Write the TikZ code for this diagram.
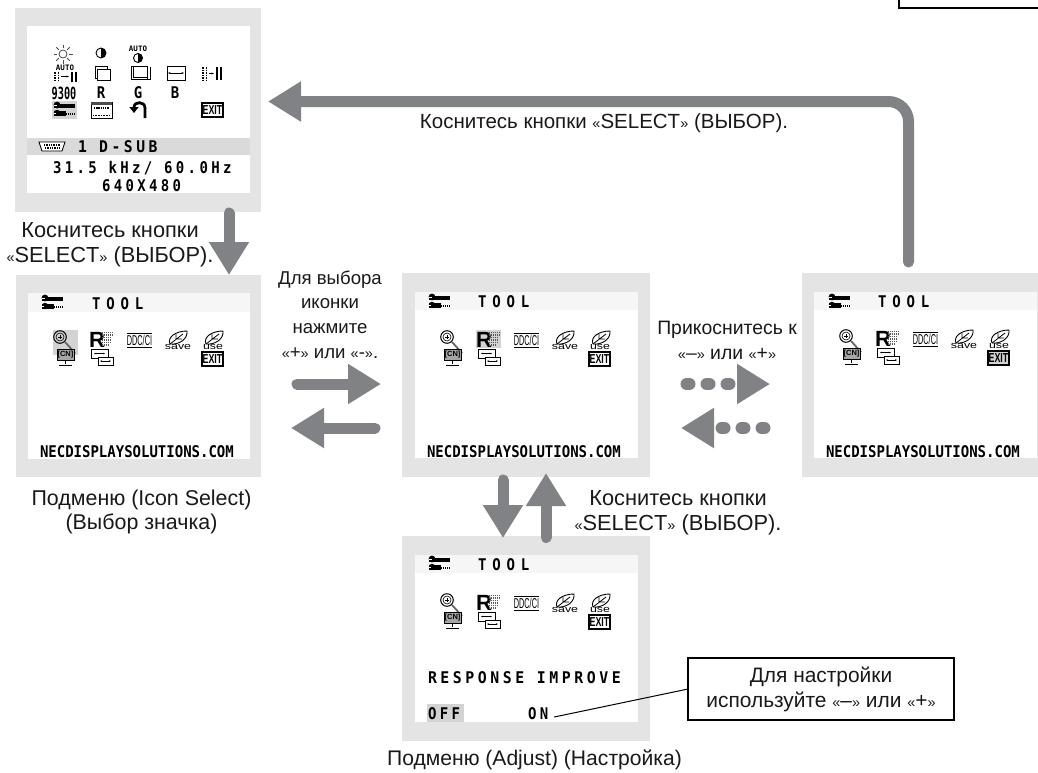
\documentclass[tikz,border=0pt]{standalone}
\usepackage{fontspec}
\setmainfont{Liberation Sans}
\newfontfamily\osd{DejaVu Sans Mono}
\newfontfamily\osdw{DejaVu Sans Mono}[LetterSpace=24]
\newfontfamily\osdt{DejaVu Sans Mono}[LetterSpace=42]
\usetikzlibrary{arrows.meta}
\definecolor{scrgray}{HTML}{E3E4E3}
\definecolor{stripgray}{HTML}{D9DAD9}
\definecolor{headgray}{HTML}{F5F6F5}
\definecolor{selgray}{HTML}{D2D3D2}
\definecolor{arrowgray}{HTML}{808285}
\newcommand{\myLq}{{\fontsize{14.5}{14}\selectfont«}}
\newcommand{\myRq}{{\fontsize{14.5}{14}\selectfont»}}
\newcommand{\selTxt}{\myLq SELECT\myRq}
\tikzset{
  x=1pt,y=-1pt,
  every node/.style={inner sep=0pt,outer sep=0pt},
  label text/.style={align=center,text=black!90,font=\fontsize{#1}{24.8}\selectfont},
  screenbox/.style={fill=scrgray,anchor=north west},
  innerbox/.style={fill=white,anchor=north west},
  osdtext/.style={font=\bfseries\osd\fontsize{14}{14}\selectfont,anchor=west,yscale=1.15},
  osdwide/.style={font=\bfseries\osdw\fontsize{14}{14}\selectfont,anchor=west,yscale=1.15},
  osdtool/.style={font=\bfseries\osdt\fontsize{14}{14}\selectfont,anchor=west,yscale=1.15},
  tiny osd/.style={font=\bfseries\osd\fontsize{7.5}{8}\selectfont},
  leaf word/.style={font=\fontsize{9.5}{10}\selectfont,xscale=1.3},
  bigarrow/.style={draw=arrowgray,line width=11pt,line cap=round,
    -{Triangle[length=33pt,width=38pt,fill=arrowgray]}},
  dotarrow/.style={draw=arrowgray,line width=12pt,dash pattern=on 3pt off 17pt,line cap=round,
    -{Triangle[length=33pt,width=38pt,fill=arrowgray]}},
  hintbox/.style={draw=black,line width=2.6pt,fill=white,align=center,font=\fontsize{20.9}{24.8}\selectfont,text=black!90},
  leader/.style={draw=black,line width=1pt},
  thinblk/.style={draw=black,line width=0.8pt},
}
% half filled contrast disc
\newcommand{\contrast}[3]{%
  \draw[line width=0.9pt] (#1,#2) circle (#3);
  \begin{scope}
    \clip (#1,#2) ++(0,-7) rectangle ++(7,14);
    \fill (#1,#2) circle (#3);
  \end{scope}}
% wrench icon, top left at #1,#2
\newcommand{\wrench}[2]{%
  \begin{scope}[shift={(#1,#2)}]
    \fill (0,1.5) rectangle (21,5.5);
    \fill (3,3) circle (3.4);
    \fill[white] (0,2.6) rectangle (3,3.6);
    \fill (3,11) circle (3.2);
    \fill (0,9) rectangle (12,13.5);
    \fill[white] (0,10.6) rectangle (2,11.4);
    \draw[line width=2pt,dash pattern=on 1.2pt off 0.8pt] (12,11.5) -- (21,11.5);
  \end{scope}}
\newcommand{\exitbox}[3]{% x y boxfill
  \begin{scope}[shift={(#1,#2)}]
    \draw[thinblk,fill=#3,line width=1.1pt] (0,0) rectangle (21,14);
    \node[font=\bfseries\fontsize{13}{13}\selectfont,xscale=0.68] at (10.5,7.2) {EXIT};
  \end{scope}}
\newcommand{\leaf}[2]{% x y
  \begin{scope}[shift={(#1,#2)}]
    \draw[line width=0.9pt] (3,13) .. controls (0,6) and (9,0) .. (20,0) .. controls (21,8) and (12,14) .. (3,13);
    \draw[line width=0.8pt] (3,13) -- (16,3) (9,8) -- (9,3) (9,8) -- (15,8);
  \end{scope}}
% the five tool icons; #1,#2 screen inner origin, #3 zoom bg, #4 R bg, #5 exit bg
\newcommand{\toolicons}[5]{%
  \begin{scope}[shift={(#1,#2)}]
    \fill[#3] (25,37) rectangle (50,62);
    \draw[line width=1pt] (32,44) circle (6.3);
    \draw[line width=0.6pt] (32,44) circle (4);
    \draw[line width=0.6pt] (30,44) -- (34,44) (32,42) -- (32,46);
    \draw[line width=1.8pt,black!60] (37,49) -- (47,60);
    \draw[line width=1pt,fill=black!35] (29,56) rectangle (46,67);
    \node[font=\bfseries\fontsize{7.5}{7}\selectfont] at (37.5,61.5) {[CN]};
    \draw[line width=1pt] (37.5,67) -- (37.5,71) (31,72) -- (44,72);
    \fill[#4] (61,37) rectangle (86,55);
    \node[font=\bfseries\fontsize{22}{21}\selectfont,anchor=west] at (61,47) {R};
    \foreach \yy/\xe in {39.5/86,42/85,44.5/84,47/83,49.5/82,52/81}{
      \draw[line width=1.5pt,black!65,dash pattern=on 1.4pt off 0.7pt] (73.5,\yy) -- (\xe,\yy);}
    \draw[line width=0.8pt] (63,56) rectangle (80,65);
    \draw[line width=0.8pt,{Stealth[length=2pt]}-{Stealth[length=2pt]}] (66,60.5) -- (77,60.5);
    \draw[line width=0.8pt,fill=white] (70,64) rectangle (85,72);
    \draw[line width=0.8pt,{Stealth[length=2pt]}-{Stealth[length=2pt]}] (72,68) -- (83,68);
    \draw[line width=0.8pt] (99,40) -- (124,40) (99,54) -- (124,54);
    \node[font=\fontsize{14}{12}\selectfont,xscale=0.52,yscale=1.02] at (111.5,47) {DDC/CI};
    \leaf{139}{38}
    \node[leaf word] at (150,54) {save};
    \leaf{175}{38}
    \node[leaf word] at (185,54) {use};
    \exitbox{174}{59}{#5}
  \end{scope}}
\begin{document}
\begin{tikzpicture}
\useasboundingbox (0,0) rectangle (1038,772);
\fill[white] (0,0) rectangle (1038,772);

% ---------- screen frames
\node[screenbox,minimum width=246pt,minimum height=204pt] (scrA) at (15,8) {};
\node[innerbox,minimum width=223pt,minimum height=167pt] (inA) at (27,26) {};
\node[screenbox,minimum width=245pt,minimum height=202pt] (scrB) at (16,275) {};
\node[innerbox,minimum width=222pt,minimum height=166pt] (inB) at (28,293) {};
\node[screenbox,minimum width=248pt,minimum height=204pt] (scrC) at (402,273) {};
\node[innerbox,minimum width=223pt,minimum height=166pt] (inC) at (415,292) {};
\node[screenbox,minimum width=236pt,minimum height=204pt] (scrE) at (802,273) {};
\node[innerbox,minimum width=223pt,minimum height=166pt] (inE) at (814,292) {};
\node[screenbox,minimum width=248pt,minimum height=205pt] (scrD) at (402,536) {};
\node[innerbox,minimum width=223pt,minimum height=167pt] (inD) at (415,555) {};

% ---------- screen A
\fill[stripgray] (27,138) rectangle (250,155);
\node[osdwide,xscale=1.05] (srcA) at (78,147) {1 D-SUB};
\node[osdwide] (freqA) at (53,168) {31.5 kHz/ 60.0Hz};
\node[osdwide] (resA) at (102,186) {640X480};
% connector icon
\draw[line width=0.9pt,fill=white] (39,142) -- (65,142) -- (62,151) -- (42,151) -- cycle;
\draw[line width=2pt,dash pattern=on 1pt off 0.7pt] (44,145) -- (60,145) (45,148) -- (59,148);
% row 1
\draw[line width=0.8pt,black!70] (63,54) circle (4);
\foreach \a in {0,45,...,315}{\draw[line width=0.8pt,black!70] (63,54) ++(\a:6) -- ++(\a:3.5);}
\contrast{101}{53}{5}
\node[tiny osd] at (138,48.5) {AUTO};
\contrast{138}{58}{4.5}
% row 2
\node[tiny osd] at (65,68) {AUTO};
\foreach \xx in {55,58.5}{\draw[line width=1.3pt,dash pattern=on 1.5pt off 1pt] (\xx,72) -- (\xx,82);}
\draw[line width=0.6pt,-{Stealth[length=2.5pt]}] (61,76.5) -- (69,76.5);
\draw[line width=2pt] (71.5,71.5) -- (71.5,81.5) (75.5,71.5) -- (75.5,81.5);
\draw[line width=0.9pt] (95,66) rectangle (107,78);
\draw[line width=0.9pt,fill=white] (97,69) rectangle (110,80);
\draw[line width=0.9pt] (131,66) -- (147,66) -- (147,79) (131,66) -- (131,79) -- (150,79) -- (150,67);
\draw[line width=0.9pt] (133,66) -- (133,77) -- (147,77);
\draw[line width=0.9pt] (167,66) rectangle (185,80);
\draw[line width=0.6pt,{Stealth[length=2.5pt]}-{Stealth[length=2.5pt]}] (168,73) -- (184,73);
\foreach \xx in {203,206.5}{\draw[line width=1.3pt,dash pattern=on 1.5pt off 1pt] (\xx,67) -- (\xx,80);}
\draw[line width=0.6pt,-{Stealth[length=2.5pt]}] (209,73.5) -- (214,73.5);
\draw[line width=2pt] (216.5,67) -- (216.5,80) (220.5,67) -- (220.5,80);
% row 3
\node[font=\bfseries\osd\fontsize{16}{14}\selectfont,xscale=0.64,yscale=1.05] at (64,93) {9300};
\node[osdtext,anchor=center] at (101,93) {R};
\node[osdtext,anchor=center] at (138,93) {G};
\node[osdtext,anchor=center] at (175,93) {B};
% row 4
\fill[selgray] (52,101) rectangle (77,119);
\wrench{54}{102}
\draw[line width=0.9pt,fill=white] (91,102) rectangle (112,118);
\fill[black!70] (91,102) rectangle (112,105);
\draw[line width=1.5pt,dash pattern=on 1.4pt off 0.8pt] (94,108) -- (109,108);
\draw[line width=1pt,dash pattern=on 1pt off 0.6pt] (93,115) -- (110,115);
\draw[line width=2.8pt,-{Triangle[length=6pt,width=9pt]}] (145,118) -- (145,108) .. controls (145,101) and (134,101) .. (134,113);
\exitbox{202}{103}{white}

% ---------- tool screens
\fill[headgray] (28,293) rectangle (250,312);
\wrench{42}{295}
\node[osdtool] (toolB) at (92,304) {TOOL};
\toolicons{28}{293}{selgray}{white}{white}
\node[osdtext] (urlB) at (40,451.5) {NECDISPLAYSOLUTIONS.COM};

\fill[headgray] (415,292) rectangle (638,310);
\wrench{429}{294}
\node[osdtool] (toolC) at (478,302) {TOOL};
\toolicons{415}{293}{white}{selgray}{white}
\node[osdtext] (urlC) at (427,451.5) {NECDISPLAYSOLUTIONS.COM};

\fill[headgray] (814,292) rectangle (1037,310);
\wrench{829}{294}
\node[osdtool] (toolE) at (878,302) {TOOL};
\toolicons{814}{292}{white}{white}{selgray}
\node[osdtext] (urlE) at (826,451.5) {NECDISPLAYSOLUTIONS.COM};

\fill[headgray] (415,555) rectangle (638,573);
\wrench{429}{556}
\node[osdtool] (toolD) at (478,565) {TOOL};
\toolicons{415}{556}{white}{white}{white}
\node[osdwide,xscale=1.06] (respD) at (428,678) {RESPONSE IMPROVE};
\fill[selgray] (427,704) rectangle (464,722);
\node[osdwide] (offD) at (428,714) {OFF};
\node[osdwide] (onD) at (528,714) {ON};

% ---------- boxes
\node[hintbox,minimum width=266pt,minimum height=62pt] (hint) at (821,689) {\rule{0pt}{0pt}\raisebox{-2pt}{Для настройки}\\\raisebox{-2pt}{используйте \myLq–\myRq{} или \myLq+\myRq}};
\draw[leader] ([xshift=6pt,yshift=-3pt]onD.east) -- (hint.west);
\node[draw=black,line width=2.6pt,fill=white,minimum width=160pt,minimum height=30pt,anchor=south west] (topbox) at (899,8) {};

% ---------- arrows
\coordinate (selStart) at (908.5,262);
\coordinate (selCorner) at (908.5,101.5);
\coordinate (selEnd) at (268,101.5);
\draw[bigarrow,rounded corners=20pt] (selStart) -- (selCorner) -- (selEnd);
\coordinate (abStart) at (229,213);
\coordinate (abEnd) at (229,275);
\draw[bigarrow] (abStart) -- (abEnd);
\coordinate (bcStart) at (297,384);
\coordinate (bcEnd) at (381,384);
\draw[bigarrow] (bcStart) -- (bcEnd);
\coordinate (cbStart) at (375,428);
\coordinate (cbEnd) at (291,428);
\draw[bigarrow] (cbStart) -- (cbEnd);
\coordinate (ceStart) at (686.5,384);
\coordinate (ceEnd) at (770,384);
\draw[dotarrow] (ceStart) -- (ceEnd);
\coordinate (ecStart) at (764.5,428);
\coordinate (ecEnd) at (681,428);
\draw[dotarrow] (ecStart) -- (ecEnd);
\coordinate (cdStart) at (503,480);
\coordinate (cdEnd) at (503,538);
\draw[bigarrow] (cdStart) -- (cdEnd);
\coordinate (dcStart) at (546,537.5);
\coordinate (dcEnd) at (546,473);
\draw[bigarrow] (dcStart) -- (dcEnd);

% ---------- labels
\node[label text=20.5] (lblTop) at (604,123) {Коснитесь кнопки \selTxt{} (ВЫБОР).};
\node[label text=21.8] (lblAB) at (110,245) {Коснитесь кнопки\\\selTxt{} (ВЫБОР).};
\node[label text=18.6] (lblBC) at (330,314.5) {Для выбора\\иконки\\нажмите\\\myLq+\myRq{} или \myLq-\myRq.};
\node[label text=19.4] (lblCE) at (727,340.5) {Прикоснитесь к\\\myLq–\myRq{} или \myLq+\myRq};
\node[label text=21.4] (lblB) at (141.5,512) {Подменю (Icon Select)\\(Выбор значка)};
\node[label text=21.8] (lblCD) at (678,512.5) {Коснитесь кнопки\\\selTxt{} (ВЫБОР).};
\node[label text=21.1] (lblD) at (534.5,760) {Подменю (Adjust) (Настройка)};
\end{tikzpicture}
\end{document}
